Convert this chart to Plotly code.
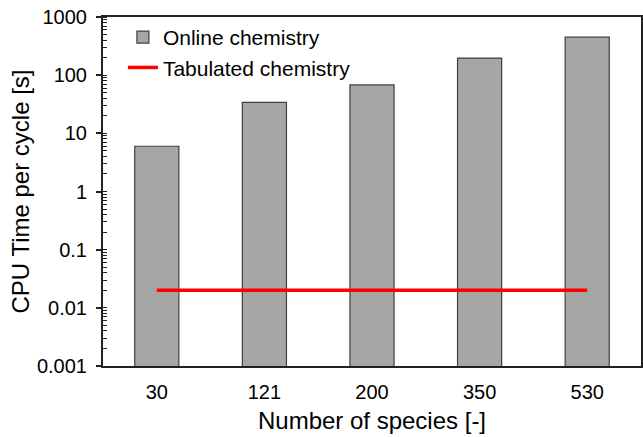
import plotly.graph_objects as go

species = ['30', '121', '200', '350', '530']
online_cpu = [6.0, 34, 68, 197, 450]
tabulated_cpu = [0.02, 0.02, 0.02, 0.02, 0.02]

font = 'Liberation Sans, Arial, sans-serif'

fig = go.Figure()
fig.add_trace(go.Bar(x=species, y=online_cpu, name='Online chemistry',
                     marker=dict(color='#a6a6a6', line=dict(color='#404040', width=1.2))))
fig.add_trace(go.Scatter(x=species, y=tabulated_cpu, mode='lines',
                         name='Tabulated chemistry',
                         line=dict(color='#ff0000', width=3.5)))

fig.update_layout(
    width=643, height=437,
    margin=dict(l=103, r=2, t=17, b=71),
    plot_bgcolor='white', paper_bgcolor='white',
    font=dict(family=font, size=20, color='black'),
    bargap=0.59,
    showlegend=True,
    legend=dict(x=0.037, y=1.0, xanchor='left', yanchor='top',
                bgcolor='rgba(0,0,0,0)', font=dict(size=21)),
)
fig.update_xaxes(
    type='category', range=[-0.5, 4.5], automargin=False,
    showline=True, linecolor='#222222', linewidth=2, mirror=True,
    ticks='', ticklabelstandoff=7,
    title=dict(text='Number of species [-]', font=dict(size=24), standoff=10),
)
fig.update_yaxes(
    type='log', range=[-3, 3], automargin=False,
    showline=True, linecolor='#222222', linewidth=2, mirror=True,
    showgrid=False, zeroline=False,
    tickvals=[0.001, 0.01, 0.1, 1, 10, 100, 1000],
    ticktext=['0.001', '0.01', '0.1', '1', '10', '100', '1000'],
    ticks='outside', ticklen=5, tickwidth=1.5, tickcolor='#222222',
    ticklabelstandoff=5, ticklabeloverflow='allow',
    minor=dict(ticks='inside', ticklen=4, tickwidth=1, tickcolor='#222222',
               dtick='D1', showgrid=False),
    title=dict(text='CPU Time per cycle [s]', font=dict(size=24), standoff=1),
)

# drop the default body margin so the figure fills the window
fig.write_html('out.html', config={'displayModeBar': False},
               post_script="document.body.style.margin = '0';")
